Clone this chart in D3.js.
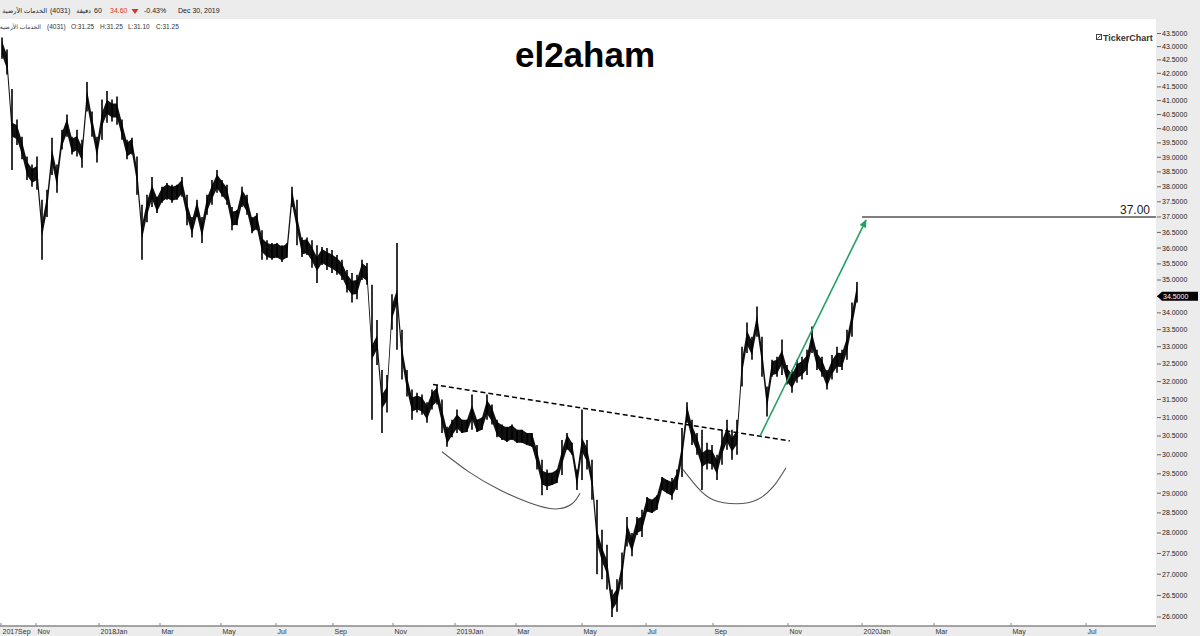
<!DOCTYPE html>
<html>
<head>
<meta charset="utf-8">
<script src="https://cdnjs.cloudflare.com/ajax/libs/d3/7.8.5/d3.min.js"></script>
<style>
  body { margin: 0; background: #fff; }
  svg { display: block; font-family: "Liberation Sans", Arial, sans-serif; }
</style>
</head>
<body>
<svg id="chart" width="1200" height="636"></svg>
<script>
// 4031 hourly bars, thinned to one sample every few bars (high / low of the sample)
var barHigh = [43.35,42.89,41.42,40.32,39.71,39.03,38.75,39.03,37.57,37.9,
  39.68,38.75,39.96,40.5,39.71,39.96,39.61,41.68,40.61,39.71,
  41.04,41.35,41.04,41.15,40.32,39.61,39.68,39.03,37.4,37.73,
  38.33,37.67,38.0,38.13,38.07,38.07,38.33,37.73,37.0,37.57,
  37.0,37.73,38.23,38.57,38.23,38.07,37.33,37.23,38.0,37.73,
  37.0,37.13,36.57,36.25,36.16,36.16,36.09,36.16,38.0,37.57,
  36.34,36.34,36.25,36.09,36.03,36.0,35.94,35.78,35.63,35.31,
  35.22,35.16,35.63,35.53,34.85,33.79,32.33,32.19,34.56,36.16,
  33.5,32.33,31.78,31.69,31.64,31.42,31.78,31.92,31.5,30.75,
  30.94,31.22,30.94,30.94,31.64,30.94,31.0,31.64,31.36,30.94,
  30.81,30.75,30.81,30.67,30.67,30.58,30.58,30.26,29.87,29.61,
  29.53,29.61,30.39,30.58,30.32,29.61,31.22,30.39,29.87,28.83,
  28.08,27.71,26.64,26.88,27.52,28.4,28.0,28.4,28.58,28.9,
  28.83,28.95,29.42,29.34,29.39,29.61,30.72,31.42,30.94,30.58,
  30.67,30.32,30.26,30.0,30.67,30.94,30.67,30.94,33.0,33.71,
  33.29,34.19,33.29,31.86,32.62,32.71,33.21,32.47,32.33,32.62,
  32.71,32.91,33.59,32.91,32.71,32.33,32.76,33.0,32.91,33.5,
  34.31,34.94];
var barLow = [42.54,41.96,38.57,39.43,38.93,38.23,38.0,37.9,35.63,37.0,
  38.4,37.8,39.27,39.71,39.1,39.03,38.64,40.61,39.71,38.82,
  39.61,40.21,40.25,40.14,39.61,38.93,39.1,37.73,35.63,36.83,
  37.33,37.13,37.47,37.57,37.47,37.57,37.67,36.73,36.34,37.0,
  36.16,37.07,37.4,37.8,37.67,37.4,36.57,36.73,37.33,37.07,
  36.47,36.57,35.63,35.63,35.63,35.69,35.56,35.69,37.33,36.09,
  35.72,35.78,35.38,34.91,35.47,35.31,35.22,35.16,35.0,34.62,
  34.31,34.41,35.0,34.85,30.94,32.47,30.58,31.14,33.5,32.91,
  32.06,31.58,30.94,31.14,31.08,30.86,31.22,31.36,30.58,30.21,
  30.47,30.58,30.58,30.61,30.67,30.61,30.67,30.94,30.81,30.47,
  30.39,30.34,30.39,30.32,30.32,30.26,30.21,29.61,28.95,29.08,
  29.21,29.26,29.47,30.13,30.0,29.08,29.34,29.61,28.83,27.0,
  26.88,26.64,26.0,26.12,26.64,27.67,27.43,27.95,27.9,28.53,
  28.5,28.58,29.08,29.0,28.83,29.08,29.42,30.86,30.26,30.0,
  29.08,29.61,29.61,29.34,29.74,30.13,29.87,30.0,31.86,32.82,
  32.62,33.29,32.14,31.03,32.14,32.14,32.19,31.92,31.69,31.97,
  32.06,32.19,32.82,32.33,32.14,31.78,32.06,32.25,32.33,32.62,
  33.29,34.31];

// month labels and the bar (sample) where each month begins
var monthLabels = ["2017Sep","Nov","2018Jan","Mar","May","Jul","Sep","Nov","2019Jan",
  "Mar","May","Jul","Sep","Nov","2020Jan","Mar","May","Jul"];
var monthBar = [-0.2,6.8,19.4,31.6,43.8,54.8,66.2,78.2,90.6,102.8,116,128.8,142.2,157.2,
  172,186.4,201.8,216.8];

var priceTicks = [26,26.5,27,27.5,28,28.5,29,29.5,30,30.5,31,31.5,32,32.5,33,33.5,34,34.5,
  35,35.5,36,36.5,37,37.5,38,38.5,39,39.5,40,40.5,41,41.5,42,42.5,43,43.5];
var markerPrice = 34.5;

// drawing annotations: [bar, price]
var neckline = [[86.2, 31.92], [157.6, 30.37]];
var targetArrow = [[151.6, 30.5], [172.8, 36.9]];
var targetPrice = 37.0, targetFromBar = 172;
var cupLeft = [[88, 30.08], [93.6, 29.53], [99.6, 29.08], [105.6, 28.75], [110.6, 28.6], [114, 28.73], [115.6, 29.0]];
var cupRight = [[136.2, 29.61], [139, 29.16], [142.2, 28.83], [147, 28.73], [151, 28.83], [154.2, 29.16], [156.8, 29.66]];

var svg = d3.select("#chart");
var plotR = 1156, plotB = 626;

var x = d3.scaleLinear().domain([0, barHigh.length - 1]).range([2, 857]);
var y = d3.scaleLog().domain([26, 37]).range([617, 217]);

/* backgrounds */
svg.append("rect").attr("x", 0).attr("y", 0).attr("width", 1200).attr("height", 636).attr("fill", "#fff");
svg.append("rect").attr("x", 0).attr("y", 0).attr("width", 1200).attr("height", 19).attr("fill", "#ececec");
svg.append("rect").attr("x", plotR).attr("y", 19).attr("width", 1200 - plotR).attr("height", 617).attr("fill", "#ececec");
svg.append("rect").attr("x", 0).attr("y", plotB).attr("width", plotR).attr("height", 636 - plotB).attr("fill", "#ececec");

svg.append("defs").append("clipPath").attr("id", "plot")
  .append("rect").attr("x", 0).attr("y", 19).attr("width", plotR).attr("height", plotB - 19);

/* header text */
var hdr = svg.append("g").attr("font-size", 7).attr("fill", "#222");
hdr.append("text").attr("x", 47).attr("y", 12.5).attr("text-anchor", "end")
  .attr("font-family", "DejaVu Sans").attr("font-size", 6.5).text("الخدمات الأرضية");
hdr.append("text").attr("x", 50).attr("y", 12.5).text("(4031)");
hdr.append("text").attr("x", 91).attr("y", 12.5).attr("text-anchor", "end")
  .attr("font-family", "DejaVu Sans").attr("font-size", 6.5).text("دقيقة");
hdr.append("text").attr("x", 94).attr("y", 12.5).text("60");
hdr.append("text").attr("x", 110).attr("y", 12.5).attr("fill", "#d9342b").text("34.60");
hdr.append("path").attr("d", "M131.5,9 L138.5,9 L135,14 Z").attr("fill", "#d9342b");
hdr.append("text").attr("x", 144).attr("y", 12.5).text("-0.43%");
hdr.append("text").attr("x", 178).attr("y", 12.5).text("Dec 30, 2019");

var sub = svg.append("g").attr("font-size", 6.5).attr("fill", "#333");
sub.append("text").attr("x", 41).attr("y", 29).attr("text-anchor", "end")
  .attr("font-family", "DejaVu Sans").attr("font-size", 6).text("الخدمات الأرضية");
sub.append("text").attr("x", 47).attr("y", 29).text("(4031)");
sub.append("text").attr("x", 71).attr("y", 29).text("O:31.25");
sub.append("text").attr("x", 100).attr("y", 29).text("H:31.25");
sub.append("text").attr("x", 128).attr("y", 29).text("L:31.10");
sub.append("text").attr("x", 156).attr("y", 29).text("C:31.25");

/* title + logo */
svg.append("text").attr("x", 585).attr("y", 67).attr("text-anchor", "middle")
  .attr("font-size", 35).attr("font-weight", "bold").attr("fill", "#000").text("el2aham");
svg.append("rect").attr("x", 1096.5).attr("y", 34.5).attr("width", 5).attr("height", 5)
  .attr("fill", "#fff").attr("stroke", "#444");
svg.append("path").attr("d", "M1097.5,38.5 L1100.5,35.5").attr("stroke", "#444");
svg.append("text").attr("x", 1103).attr("y", 40.5).attr("font-size", 9).attr("font-weight", "bold")
  .attr("fill", "#333").text("TickerChart");

/* price bars */
var bars = barHigh.map(function(h, i) { return {i: i, hi: h, lo: barLow[i]}; });
var g = svg.append("g").attr("clip-path", "url(#plot)");

// dense body of the bars, capped so the long wicks stay thin
function bodyHalf(d) { return Math.min((y(d.lo) - y(d.hi)) / 2, 7); }
function bodyMid(d) { return (y(d.hi) + y(d.lo)) / 2; }
var band = d3.area()
  .x(function(d) { return x(d.i); })
  .y0(function(d) { return bodyMid(d) - bodyHalf(d); })
  .y1(function(d) { return bodyMid(d) + bodyHalf(d); });
g.append("path").datum(bars).attr("d", band).attr("fill", "#111");

g.selectAll("line.wick").data(bars).enter().append("line").attr("class", "wick")
  .attr("x1", function(d) { return x(d.i); }).attr("x2", function(d) { return x(d.i); })
  .attr("y1", function(d) { return y(d.hi); }).attr("y2", function(d) { return y(d.lo); })
  .attr("stroke", "#000").attr("stroke-width", 1.6);

/* annotations */
var pt = d3.line().x(function(d) { return x(d[0]); }).y(function(d) { return y(d[1]); });
g.append("path").attr("d", pt(neckline)).attr("fill", "none")
  .attr("stroke", "#000").attr("stroke-width", 1.5).attr("stroke-dasharray", "5,3");

var cup = d3.line().curve(d3.curveNatural).x(function(d) { return x(d[0]); }).y(function(d) { return y(d[1]); });
g.append("path").attr("d", cup(cupLeft)).attr("fill", "none").attr("stroke", "#555").attr("stroke-width", 1.1);
g.append("path").attr("d", cup(cupRight)).attr("fill", "none").attr("stroke", "#555").attr("stroke-width", 1.1);

svg.select("defs").append("marker").attr("id", "arr").attr("viewBox", "0 0 10 10")
  .attr("refX", 9).attr("refY", 5).attr("markerWidth", 9).attr("markerHeight", 8)
  .attr("markerUnits", "userSpaceOnUse").attr("orient", "auto")
  .append("path").attr("d", "M0,0.5 L10,5 L0,9.5 Z").attr("fill", "#23a064");
g.append("path").attr("d", pt(targetArrow)).attr("fill", "none")
  .attr("stroke", "#23a064").attr("stroke-width", 1.6).attr("marker-end", "url(#arr)");

g.append("line").attr("x1", x(targetFromBar)).attr("x2", plotR)
  .attr("y1", y(targetPrice)).attr("y2", y(targetPrice))
  .attr("stroke", "#555").attr("stroke-width", 1.5);
svg.append("text").attr("x", 1150).attr("y", y(targetPrice) - 3).attr("text-anchor", "end")
  .attr("font-size", 12).attr("fill", "#222").text(d3.format(".2f")(targetPrice));

/* right price axis */
var ya = svg.append("g").attr("font-size", 7).attr("fill", "#222");
ya.selectAll("line").data(priceTicks).enter().append("line")
  .attr("x1", plotR + 1).attr("x2", plotR + 5)
  .attr("y1", function(d) { return y(d); }).attr("y2", function(d) { return y(d); })
  .attr("stroke", "#666");
ya.selectAll("text").data(priceTicks).enter().append("text")
  .attr("x", plotR + 6).attr("y", function(d) { return y(d); }).attr("dy", "0.35em")
  .text(function(d) { return d3.format(".4f")(d); });

var my = y(markerPrice);
svg.append("path")
  .attr("d", "M" + (plotR + 1) + "," + my + " L" + (plotR + 6) + "," + (my - 4.5) + " L1198," + (my - 4.5) +
    " L1198," + (my + 4.5) + " L" + (plotR + 6) + "," + (my + 4.5) + " Z")
  .attr("fill", "#000");
svg.append("text").attr("x", plotR + 7).attr("y", my).attr("dy", "0.35em")
  .attr("font-size", 7).attr("fill", "#fff").text(d3.format(".4f")(markerPrice));

/* bottom time axis */
svg.append("line").attr("x1", 0).attr("x2", plotR).attr("y1", plotB).attr("y2", plotB)
  .attr("stroke", "#888").attr("stroke-width", 1.5);
var xa = svg.append("g").attr("font-size", 7).attr("fill", "#333");
xa.selectAll("line").data(monthBar).enter().append("line")
  .attr("x1", function(d) { return x(d); }).attr("x2", function(d) { return x(d); })
  .attr("y1", plotB - 3).attr("y2", plotB).attr("stroke", "#888");
xa.selectAll("text").data(monthLabels).enter().append("text")
  .attr("x", function(d, i) { return Math.max(1, x(monthBar[i]) + 1.5); })
  .attr("y", 634).text(function(d) { return d; });
</script>
</body>
</html>
